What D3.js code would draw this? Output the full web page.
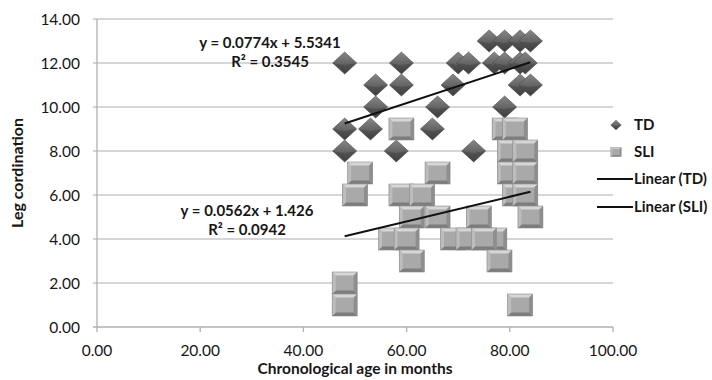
<!DOCTYPE html>
<html>
<head>
<meta charset="utf-8">
<script src="https://cdn.jsdelivr.net/npm/d3@7"></script>
<style>
  body { margin: 0; background: #fff; }
  text { font-family: Lato, "Open Sans", sans-serif; fill: #161616; }
</style>
</head>
<body>
<div id="chart"></div>
<script>
// TD group: age (months) and leg coordination score
const tdAge   = [48, 59, 70, 72, 77, 79, 82, 83, 76, 79, 82, 84, 54, 59, 69, 82, 84, 54, 66, 79, 48, 53, 65, 48, 58, 73];
const tdScore = [12, 12, 12, 12, 12, 12, 12, 12, 13, 13, 13, 13, 11, 11, 11, 11, 11, 10, 10, 10,  9,  9,  9,  8,  8,  8];

// SLI group
const sliAge   = [59, 79, 81, 80, 83, 51, 66, 80, 83, 50, 59, 63, 81, 83, 61, 66, 74, 84, 57, 60, 69, 72, 77, 75, 61, 78, 48, 48, 82];
const sliScore = [ 9,  9,  9,  8,  8,  7,  7,  7,  7,  6,  6,  6,  6,  6,  5,  5,  5,  5,  4,  4,  4,  4,  4,  4,  3,  3,  2,  1,  1];

// trend lines (slope, intercept) as printed on the chart
const trendTD  = [0.0774, 5.5341];
const trendSLI = [0.0562, 1.426];
const trendRange = [48, 84];

const xTicks = [0, 20, 40, 60, 80, 100];
const yTicks = [0, 2, 4, 6, 8, 10, 12, 14];

const width = 712, height = 380;
const margin = { left: 97, right: 99, top: 19, bottom: 53 };

const svg = d3.select('#chart').append('svg')
  .attr('width', width)
  .attr('height', height);

const defs = svg.append('defs');
const dg = defs.append('linearGradient').attr('id', 'diamondGrad')
  .attr('x1', 0).attr('y1', 0).attr('x2', 0).attr('y2', 1);
dg.append('stop').attr('offset', '0%').attr('stop-color', '#7a7a7a');
dg.append('stop').attr('offset', '50%').attr('stop-color', '#555');
dg.append('stop').attr('offset', '100%').attr('stop-color', '#3e3e3e');

const x = d3.scaleLinear().domain([0, 100]).range([margin.left, width - margin.right]);
const y = d3.scaleLinear().domain([0, 14]).range([height - margin.bottom, margin.top]);

// gridlines
svg.append('g').selectAll('line')
  .data(yTicks.filter(d => d > 0))
  .enter().append('line')
  .attr('x1', x(0) - 4).attr('x2', x(100))
  .attr('y1', d => y(d)).attr('y2', d => y(d))
  .attr('stroke', '#c9c9c9').attr('stroke-width', 1.3);

// axes lines
svg.append('line')
  .attr('x1', x(0)).attr('x2', x(0)).attr('y1', y(0)).attr('y2', y(14))
  .attr('stroke', '#b0b0b0').attr('stroke-width', 1.3);
svg.append('line')
  .attr('x1', x(0) - 4).attr('x2', x(100)).attr('y1', y(0)).attr('y2', y(0))
  .attr('stroke', '#b0b0b0').attr('stroke-width', 1.3);
svg.append('g').selectAll('line')
  .data(xTicks)
  .enter().append('line')
  .attr('x1', d => x(d)).attr('x2', d => x(d))
  .attr('y1', y(0)).attr('y2', y(0) + 5)
  .attr('stroke', '#b0b0b0').attr('stroke-width', 1.3);

// tick labels
svg.append('g').selectAll('text')
  .data(yTicks)
  .enter().append('text')
  .attr('x', x(0) - 17).attr('y', d => y(d))
  .attr('dy', '0.36em')
  .attr('text-anchor', 'end')
  .attr('font-size', 15.5)
  .text(d => d.toFixed(2));

svg.append('g').selectAll('text')
  .data(xTicks)
  .enter().append('text')
  .attr('x', d => x(d)).attr('y', y(0) + 23)
  .attr('dy', '0.36em')
  .attr('text-anchor', 'middle')
  .attr('font-size', 15.5)
  .text(d => d.toFixed(2));

// axis titles
svg.append('text')
  .attr('x', (x(0) + x(100)) / 2).attr('y', 373.5)
  .attr('text-anchor', 'middle')
  .attr('font-size', 15.5).attr('font-weight', 'bold')
  .text('Chronological age in months');

svg.append('text')
  .attr('transform', `translate(17, ${(y(0) + y(14)) / 2}) rotate(-90)`)
  .attr('dy', '0.36em')
  .attr('text-anchor', 'middle')
  .attr('font-size', 16).attr('font-weight', 'bold')
  .text('Leg cordination');

// marker drawers
const dW = 12, dH = 11;
function diamond(g) {
  g.append('path')
    .attr('d', `M0,${-dH}L${dW},0L0,${dH}L${-dW},0Z`)
    .attr('fill', 'url(#diamondGrad)')
    .attr('stroke', '#444').attr('stroke-width', 0.6);
  g.append('path')
    .attr('d', `M0,${-dH}L${dW},0L0,2L${-dW},0Z`)
    .attr('fill', '#fff').attr('opacity', 0.1);
}

const sW = 12.5, sH = 11, b = 3.5;
function square(g) {
  g.append('rect')
    .attr('x', -sW).attr('y', -sH).attr('width', 2 * sW).attr('height', 2 * sH)
    .attr('fill', '#a9a9a9');
  // bevel faces
  g.append('path').attr('d', `M${-sW},${-sH}L${sW},${-sH}L${sW - b},${-sH + b}L${-sW + b},${-sH + b}Z`).attr('fill', '#d6d6d6');
  g.append('path').attr('d', `M${-sW},${sH}L${sW},${sH}L${sW - b},${sH - b}L${-sW + b},${sH - b}Z`).attr('fill', '#7d7d7d');
  g.append('path').attr('d', `M${-sW},${-sH}L${-sW + b},${-sH + b}L${-sW + b},${sH - b}L${-sW},${sH}Z`).attr('fill', '#bdbdbd');
  g.append('path').attr('d', `M${sW},${-sH}L${sW - b},${-sH + b}L${sW - b},${sH - b}L${sW},${sH}Z`).attr('fill', '#8e8e8e');
  g.append('rect')
    .attr('x', -sW).attr('y', -sH).attr('width', 2 * sW).attr('height', 2 * sH)
    .attr('fill', 'none').attr('stroke', '#8a8a8a').attr('stroke-width', 0.6);
}

// TD points
svg.append('g').selectAll('g')
  .data(d3.zip(tdAge, tdScore))
  .enter().append('g')
  .attr('transform', d => `translate(${x(d[0])},${y(d[1])})`)
  .each(function () { diamond(d3.select(this)); });

// SLI points
svg.append('g').selectAll('g')
  .data(d3.zip(sliAge, sliScore))
  .enter().append('g')
  .attr('transform', d => `translate(${x(d[0])},${y(d[1])})`)
  .each(function () { square(d3.select(this)); });

// trend lines
const line = d3.line().x(d => x(d[0])).y(d => y(d[1]));
[trendTD, trendSLI].forEach(t => {
  svg.append('path')
    .datum(trendRange.map(a => [a, t[0] * a + t[1]]))
    .attr('d', line)
    .attr('fill', 'none')
    .attr('stroke', '#111')
    .attr('stroke-width', 2);
});

// equation labels
function eqLabel(cx, cy, l1, l2) {
  const t = svg.append('text')
    .attr('text-anchor', 'middle')
    .attr('font-size', 15).attr('font-weight', 'bold');
  t.append('tspan').attr('x', cx).attr('y', cy).text(l1);
  t.append('tspan').attr('x', cx).attr('y', cy + 19).text(l2);
}
eqLabel(270, 48, 'y = 0.0774x + 5.5341', 'R² = 0.3545');
eqLabel(247, 216, 'y = 0.0562x + 1.426', 'R² = 0.0942');

// legend
const lg = svg.append('g');
lg.append('g').attr('transform', 'translate(616,125) scale(0.45)').call(diamond);
lg.append('g').attr('transform', 'translate(616,152) scale(0.42)').call(square);
lg.append('line').attr('x1', 597).attr('x2', 633).attr('y1', 179).attr('y2', 179)
  .attr('stroke', '#111').attr('stroke-width', 2);
lg.append('line').attr('x1', 597).attr('x2', 633).attr('y1', 207).attr('y2', 207)
  .attr('stroke', '#111').attr('stroke-width', 2);
const legendItems = [['TD', 634, 125], ['SLI', 634, 152], ['Linear (TD)', 634, 179], ['Linear (SLI)', 634, 207]];
lg.selectAll('text.leg')
  .data(legendItems)
  .enter().append('text')
  .attr('class', 'leg')
  .attr('x', d => d[1]).attr('y', d => d[2])
  .attr('dy', '0.36em')
  .attr('font-size', 15).attr('font-weight', 'bold')
  .text(d => d[0]);
</script>
</body>
</html>
